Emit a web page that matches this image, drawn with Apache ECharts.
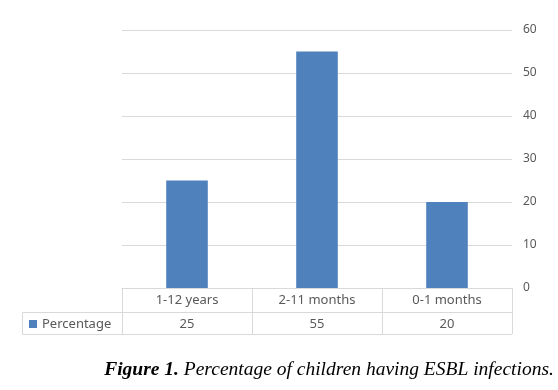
<!DOCTYPE html>
<html><head><meta charset="utf-8">
<script src="https://cdn.jsdelivr.net/npm/echarts@6/dist/echarts.min.js"></script>
<style>html,body{margin:0;padding:0;background:#fff}#c{width:558px;height:390px}</style>
</head><body><div id="c"></div>
<script>
const categories = ['1-12 years', '2-11 months', '0-1 months'];
const seriesName = 'Percentage';
const values = [25, 55, 20];
const yTicks = [0, 10, 20, 30, 40, 50, 60];
const caption = ['Figure 1.', ' Percentage of children having ESBL infections.'];

const chart = echarts.init(document.getElementById('c'));
const gridL = 122, gridR = 46, gridT = 30, gridB = 102;
const font = 'Noto Sans';
const txt = '#595959';
const border = '#d9d9d9';
chart.setOption({
  animation: false,
  textStyle: {fontFamily: font},
  grid: {left: gridL, right: gridR, top: gridT, bottom: gridB},
  legend: {
    data: [seriesName], left: 24, top: 312.5, icon: 'rect', itemWidth: 8, itemHeight: 8, itemGap: 4,
    textStyle: {color: txt, fontSize: 13, fontFamily: font}
  },
  title: {
    text: '{b|' + caption[0] + '}{i|' + caption[1] + '}',
    left: 324, top: 355, textAlign: 'center',
    textStyle: {
      fontWeight: 'normal',
      rich: {
        b: {fontFamily: 'Liberation Serif', fontStyle: 'italic', fontWeight: 'bold', fontSize: 19.5, color: '#000'},
        i: {fontFamily: 'Liberation Serif', fontStyle: 'italic', fontWeight: 'normal', fontSize: 19.5, color: '#000'}
      }
    }
  },
  xAxis: [{
    type: 'category', data: categories, position: 'bottom',
    axisLine: {show: true, lineStyle: {color: border}},
    axisTick: {show: true, length: 46, lineStyle: {color: border}},
    axisLabel: {color: txt, fontSize: 13, margin: 6}
  }, {
    type: 'category', data: values.map(String), position: 'bottom', offset: 23.5,
    axisLine: {show: false}, axisTick: {show: false},
    axisLabel: {color: txt, fontSize: 13, margin: 6}
  }],
  yAxis: {
    type: 'value', position: 'right', min: yTicks[0], max: yTicks[yTicks.length-1], interval: 10,
    axisLine: {show: false}, axisTick: {show: false},
    axisLabel: {color: txt, fontSize: 12, margin: 11},
    splitLine: {lineStyle: {color: border}}
  },
  series: [{
    name: seriesName, type: 'bar', data: values, barWidth: '32%',
    itemStyle: {color: '#4f81bd'}
  }]
});

function drawTable() {
  const x0 = chart.convertToPixel({xAxisIndex: 0}, 0);
  const x1 = chart.convertToPixel({xAxisIndex: 0}, 1);
  const step = x1 - x0;
  const left = x0 - step / 2;
  const right = left + step * categories.length;
  const y0 = chart.convertToPixel({yAxisIndex: 0}, 0);
  const r1 = y0 + 23.5, r2 = y0 + 46;
  const ls = {stroke: border, lineWidth: 1};
  const tableLeft = 22.5;
  chart.setOption({graphic: [
    {type: 'line', shape: {x1: tableLeft, y1: Math.round(r1)+0.5, x2: right, y2: Math.round(r1)+0.5}, style: ls, silent: true},
    {type: 'line', shape: {x1: tableLeft, y1: Math.round(r2)+0.5, x2: right, y2: Math.round(r2)+0.5}, style: ls, silent: true},
    {type: 'line', shape: {x1: tableLeft, y1: Math.round(r1)+0.5, x2: tableLeft, y2: Math.round(r2)+0.5}, style: ls, silent: true}
  ]});
}
drawTable();
</script></body></html>
